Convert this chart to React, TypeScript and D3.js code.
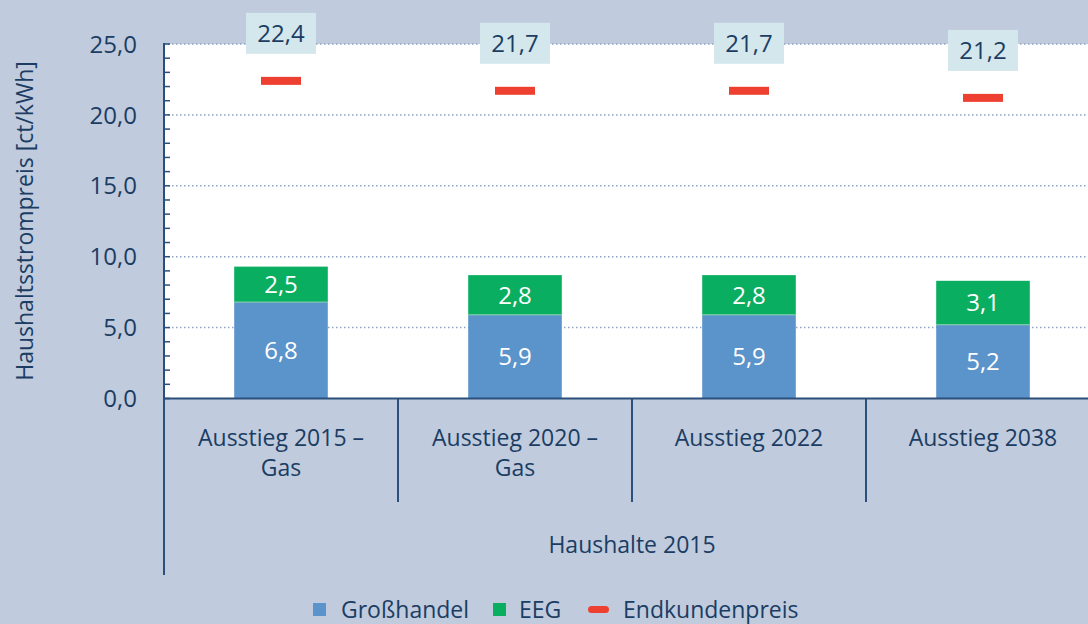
import React from "react";
import * as d3 from "d3";

const categories = ["Ausstieg 2015 –\nGas", "Ausstieg 2020 –\nGas", "Ausstieg 2022", "Ausstieg 2038"];
const grosshandel = [6.8, 5.9, 5.9, 5.2];
const eeg = [2.5, 2.8, 2.8, 3.1];
const endkundenpreis = [22.4, 21.7, 21.7, 21.2];
const yTicks = [0, 5, 10, 15, 20, 25];
const groupLabel = "Haushalte 2015";
const yLabel = "Haushaltsstrompreis [ct/kWh]";
const legendItems = ["Großhandel", "EEG", "Endkundenpreis"];

const W = 1088, H = 624;
const BG = "#c0cbdd";
const TXT = "#1b3d63";
const AX = "#2a4f7a";
const BLUE = "#5b93cb";
const GREEN = "#0aae60";
const RED = "#ee4030";
const BOX = "#d3e7ec";
const FONT = "'Open Sans', 'Noto Sans', sans-serif";

const fmt = (v: number) => v.toFixed(1).replace(".", ",");

export default function App() {
  const x = d3.scaleBand<string>().domain(categories).range([164, 1100]).paddingInner(0).paddingOuter(0);
  const y = d3.scaleLinear().domain([0, 25]).range([398.5, 44]);
  const bw = x.bandwidth() * 0.4;
  const minor = d3.range(0, 26, 1);
  const x0 = 164;
  const NUM = 24;
  const TX = 23;

  return (
    <svg width={W} height={H} style={{ position: "absolute", left: 0, top: 0, fontFamily: FONT, fontWeight: 400 }}>
      <rect x={0} y={0} width={W} height={H} fill={BG} />
      <rect x={x0} y={y(25)} width={W - x0} height={y(0) - y(25)} fill="#ffffff" />
      {yTicks.filter(t => t > 0).map(t => (
        <line key={"g" + t} x1={x0} x2={W} y1={y(t)} y2={y(t)} stroke="#8ea3c3" strokeWidth={1.5} strokeDasharray="1.5 2.5" />
      ))}
      {minor.map(t => (
        <line key={"m" + t} x1={x0} x2={x0 + 6} y1={y(t)} y2={y(t)} stroke={AX} strokeWidth={1.5} />
      ))}
      {yTicks.map(t => (
        <text key={"t" + t} x={137} y={y(t)} dy="0.36em" textAnchor="end" fontSize={NUM} fill={TXT}>{fmt(t)}</text>
      ))}
      {categories.map((c, i) => {
        const bx = (x(c) as number) + (x.bandwidth() - bw) / 2;
        const cx = (x(c) as number) + x.bandwidth() / 2;
        const g = grosshandel[i], e = eeg[i], p = endkundenpreis[i];
        return (
          <g key={c}>
            <rect x={bx} y={y(g)} width={bw} height={y(0) - y(g)} fill={BLUE} />
            <rect x={bx} y={y(g + e)} width={bw} height={y(g) - y(g + e)} fill={GREEN} />
            <line x1={bx} x2={bx + bw} y1={y(g)} y2={y(g)} stroke="#8ccfb0" strokeWidth={1} />
            <text x={cx} y={(y(0) + y(g)) / 2} dy="0.36em" textAnchor="middle" fontSize={NUM} fill="#fff">{fmt(g)}</text>
            <text x={cx} y={(y(g) + y(g + e)) / 2} dy="0.36em" textAnchor="middle" fontSize={NUM} fill="#fff">{fmt(e)}</text>
            <rect x={cx - 20} y={y(p) - 4} width={40} height={8} fill={RED} />
            <rect x={cx - 35} y={y(p) - 68} width={70} height={41} fill={BOX} />
            <text x={cx} y={y(p) - 47.5} dy="0.36em" textAnchor="middle" fontSize={NUM} fill={TXT}>{fmt(p)}</text>
            {c.split("\n").map((line, k) => (
              <text key={k} x={cx} y={438 + k * 30} dy="0.36em" textAnchor="middle" fontSize={TX} fill={TXT}>{line}</text>
            ))}
            {i > 0 && <line x1={x(c) as number} x2={x(c) as number} y1={y(0)} y2={502} stroke={AX} strokeWidth={2} />}
          </g>
        );
      })}
      <line x1={x0} x2={W} y1={y(0)} y2={y(0)} stroke={AX} strokeWidth={2} />
      <line x1={x0} x2={x0} y1={y(25) - 1} y2={575} stroke={AX} strokeWidth={2} />
      <text x={(164 + 1100) / 2} y={545} dy="0.36em" textAnchor="middle" fontSize={TX} fill={TXT}>{groupLabel}</text>
      <text transform={`translate(25, ${221}) rotate(-90)`} textAnchor="middle" dy="0.36em" fontSize={TX} fill={TXT}>{yLabel}</text>
      <g>
        <rect x={313} y={603} width={13} height={13} fill={BLUE} />
        <text x={341} y={610} dy="0.36em" fontSize={TX} fill={TXT}>{legendItems[0]}</text>
        <rect x={493} y={603} width={13} height={13} fill={GREEN} />
        <text x={519} y={610} dy="0.36em" fontSize={TX} fill={TXT}>{legendItems[1]}</text>
        <rect x={588} y={606} width={21} height={7} rx={3.5} fill={RED} />
        <text x={623} y={610} dy="0.36em" fontSize={TX} fill={TXT}>{legendItems[2]}</text>
      </g>
    </svg>
  );
}
